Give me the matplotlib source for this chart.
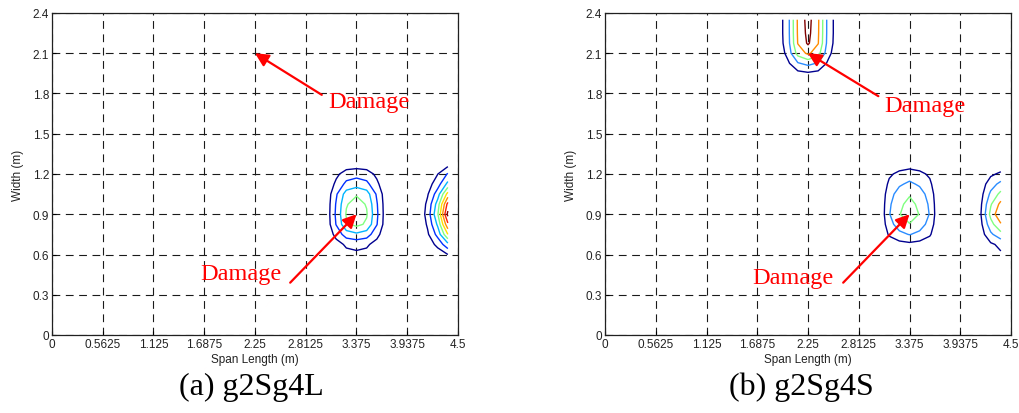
import matplotlib
matplotlib.use("Agg")
import matplotlib.pyplot as plt
import numpy as np

# ---------------- data ----------------
x_ticks = [0, 0.5625, 1.125, 1.6875, 2.25, 2.8125, 3.375, 3.9375, 4.5]
x_tick_labels = ["0", "0.5625", "1.125", "1.6875", "2.25", "2.8125", "3.375", "3.9375", "4.5"]
y_ticks = [0, 0.3, 0.6, 0.9, 1.2, 1.5, 1.8, 2.1, 2.4]
y_tick_labels = ["0", "0.3", "0.6", "0.9", "1.2", "1.5", "1.8", "2.1", "2.4"]

# contour levels / colours
levels_a = [1, 2, 3, 4, 5, 6, 7, 8]
colors_a = ["#00008f", "#0030ff", "#00b4ff", "#80ff80", "#ffe000", "#ff9000", "#ff2000", "#800000"]
levels_b = [1, 2, 3, 4, 5]
colors_b = ["#00008f", "#2a8cff", "#80ff80", "#ff8c00", "#800000"]

# ---- panel (a): damage index field, blob near (3.375, 0.9)
a1_x = [2.925, 3.0375, 3.15, 3.2625, 3.375, 3.4875, 3.6, 3.7125, 3.825]
a1_y = [0.525, 0.6, 0.675, 0.75, 0.825, 0.9, 0.975, 1.05, 1.125, 1.2, 1.275, 1.35]
a1_z = [
    [0, 0, 0, 0, 0, 0, 0, 0, 0],
    [0, .05, .38, .71, .80, .71, .38, .05, 0],
    [0, .08, .62, 1.16, 1.30, 1.16, .62, .08, 0],
    [0, .18, 1.34, 2.49, 2.80, 2.49, 1.34, .18, 0],
    [0, .28, 2.06, 3.83, 4.30, 3.83, 2.06, .28, 0],
    [0, .30, 2.20, 4.10, 4.60, 4.10, 2.20, .30, 0],
    [0, .29, 2.10, 3.92, 4.40, 3.92, 2.10, .29, 0],
    [0, .25, 1.86, 3.47, 3.90, 3.47, 1.86, .25, 0],
    [0, .17, 1.22, 2.27, 2.55, 2.27, 1.22, .17, 0],
    [0, .11, .78, 1.45, 1.63, 1.45, .78, .11, 0],
    [0, .03, .22, .40, .45, .40, .22, .03, 0],
    [0, 0, 0, 0, 0, 0, 0, 0, 0],
]
# ---- panel (a): blob at the right edge (4.39, 0.9)
a2_x = [4.05, 4.1625, 4.275, 4.3875]
a2_y = [0.45, 0.525, 0.6, 0.675, 0.75, 0.825, 0.9, 0.975, 1.05, 1.125, 1.2, 1.275, 1.35]
a2_z = [
    [0, 0, 0, 0],
    [0, .03, .09, 0.2],
    [0, .17, .47, 1.0],
    [0, .45, 1.27, 2.7],
    [0, .84, 2.35, 5.0],
    [0, 1.14, 3.19, 6.8],
    [0, 1.39, 3.89, 8.3],
    [0, 1.23, 3.45, 7.35],
    [0, .90, 2.53, 5.4],
    [0, .55, 1.55, 3.3],
    [0, .35, .98, 2.1],
    [0, .10, .28, 0.6],
    [0, 0, 0, 0],
]

# ---- panel (b): blob near (3.375, 0.9)
b1_x = [2.925, 3.0375, 3.15, 3.2625, 3.375, 3.4875, 3.6, 3.7125, 3.825]
b1_y = [0.525, 0.6, 0.675, 0.75, 0.825, 0.9, 0.975, 1.05, 1.125, 1.2, 1.275, 1.35]
b1_z = [
    [0, 0, 0, 0, 0, 0, 0, 0, 0],
    [0, 0, 0, 0, 0, 0, 0, 0, 0],
    [0, 0, .41, .62, .74, .62, .41, 0, 0],
    [0, 0, 1.13, 1.73, 2.05, 1.73, 1.13, 0, 0],
    [0, 0, 1.62, 2.49, 2.95, 2.49, 1.62, 0, 0],
    [0, 0, 1.93, 2.95, 3.50, 2.95, 1.93, 0, 0],
    [0, 0, 1.82, 2.78, 3.30, 2.78, 1.82, 0, 0],
    [0, 0, 1.60, 2.44, 2.90, 2.44, 1.60, 0, 0],
    [0, 0, 1.21, 1.85, 2.20, 1.85, 1.21, 0, 0],
    [0, 0, .83, 1.26, 1.50, 1.26, .83, 0, 0],
    [0, 0, .28, .42, .50, .42, .28, 0, 0],
    [0, 0, 0, 0, 0, 0, 0, 0, 0],
]
# ---- panel (b): blob at the right edge
b2_x = [4.05, 4.1625, 4.275, 4.3875]
b2_y = [0.45, 0.525, 0.6, 0.675, 0.75, 0.825, 0.9, 0.975, 1.05, 1.125, 1.2, 1.275, 1.35]
b2_z = [
    [0, 0, 0, 0],
    [0, .02, .07, 0.10],
    [0, .16, .59, 0.87],
    [0, .23, .83, 1.24],
    [0, .49, 1.80, 2.67],
    [0, .72, 2.62, 3.90],
    [0, .90, 3.30, 4.90],
    [0, .79, 2.89, 4.30],
    [0, .61, 2.22, 3.30],
    [0, .42, 1.55, 2.30],
    [0, .22, .81, 1.20],
    [0, .06, .20, 0.30],
    [0, 0, 0, 0],
]
# ---- panel (b): blob at the top edge (2.25, 2.35)
b3_x = [1.8, 1.9125, 2.025, 2.1375, 2.25, 2.3625, 2.475, 2.5875, 2.7]
b3_y = [1.8, 1.875, 1.95, 2.025, 2.1, 2.175, 2.25, 2.35]
b3_z = [
    [0, 0, 0, 0, 0, 0, 0, 0, 0],
    [0, 0, 0, 0, 0, 0, 0, 0, 0],
    [0, 0, .30, .70, .85, .70, .30, 0, 0],
    [0, .10, .80, 1.90, 2.30, 1.90, .80, .10, 0],
    [0, .25, 1.30, 3.40, 4.20, 3.40, 1.30, .25, 0],
    [0, .35, 1.55, 4.05, 5.15, 4.05, 1.55, .35, 0],
    [0, .38, 1.60, 4.12, 5.30, 4.12, 1.60, .38, 0],
    [0, .38, 1.60, 4.15, 5.40, 4.15, 1.60, .38, 0],
]

# annotations: (text position, arrow tail, arrow head)
ann_a_text = [(3.06, 1.74), (1.64, 0.46)]
ann_a_tail = [(2.99, 1.79), (2.64, 0.39)]
ann_a_head = [(2.25, 2.1), (3.375, 0.9)]
ann_b_text = [(3.10, 1.71), (1.63, 0.43)]
ann_b_tail = [(3.03, 1.78), (2.64, 0.39)]
ann_b_head = [(2.25, 2.1), (3.375, 0.9)]
captions = ["(a) g2Sg4L", "(b) g2Sg4S"]

# ---------------- drawing ----------------
W, H = 1019, 414
fig = plt.figure(figsize=(W / 100, H / 100), dpi=100)
ax_a = fig.add_axes([52 / W, 78 / H, 406 / W, 322 / H])
ax_b = fig.add_axes([605 / W, 78 / H, 406 / W, 322 / H])

sans = "Liberation Sans"
serif = "Liberation Serif"


def style(ax):
    ax.set_xlim(0, 4.5)
    ax.set_ylim(0, 2.4)
    ax.set_xticks(x_ticks)
    ax.set_xticklabels(x_tick_labels, family=sans, fontsize=8.5, color="#222222")
    ax.set_yticks(y_ticks)
    ax.set_yticklabels(y_tick_labels, family=sans, fontsize=8.5, color="#222222")
    ax.tick_params(direction="in", length=3, width=0.8, pad=2)
    ax.grid(True, color="#1a1a1a", linestyle=(0, (7, 5)), linewidth=0.8)
    for s in ax.spines.values():
        s.set_linewidth(0.9)
        s.set_color("#202020")
    ax.set_xlabel("Span Length (m)", family=sans, fontsize=8.5, color="#222222", labelpad=2)
    ax.set_ylabel("Width (m)", family=sans, fontsize=8.5, color="#222222", labelpad=6)


for ax in (ax_a, ax_b):
    style(ax)

for xs, ys, zs in [(a1_x, a1_y, a1_z), (a2_x, a2_y, a2_z)]:
    ax_a.contour(xs, ys, np.array(zs), levels=levels_a, colors=colors_a, linewidths=1.0)
for xs, ys, zs in [(b1_x, b1_y, b1_z), (b2_x, b2_y, b2_z), (b3_x, b3_y, b3_z)]:
    ax_b.contour(xs, ys, np.array(zs), levels=levels_b, colors=colors_b, linewidths=1.0)


def annotate(ax, texts, tails, heads):
    for t, tl, hd in zip(texts, tails, heads):
        ax.annotate("", xy=hd, xytext=tl,
                    arrowprops=dict(arrowstyle="-|>", color="red", lw=1.6,
                                    mutation_scale=20, shrinkA=0, shrinkB=0))
        ax.text(t[0], t[1], "Damage", color="red", fontsize=17.5, family=serif,
                ha="left", va="center")


annotate(ax_a, ann_a_text, ann_a_tail, ann_a_head)
annotate(ax_b, ann_b_text, ann_b_tail, ann_b_head)

fig.text((52 + 199) / W, 27 / H, captions[0], ha="center", va="center",
         fontsize=23, family=serif)
fig.text((605 + 196) / W, 27 / H, captions[1], ha="center", va="center",
         fontsize=23, family=serif)

fig.savefig("out.png", dpi=100)
